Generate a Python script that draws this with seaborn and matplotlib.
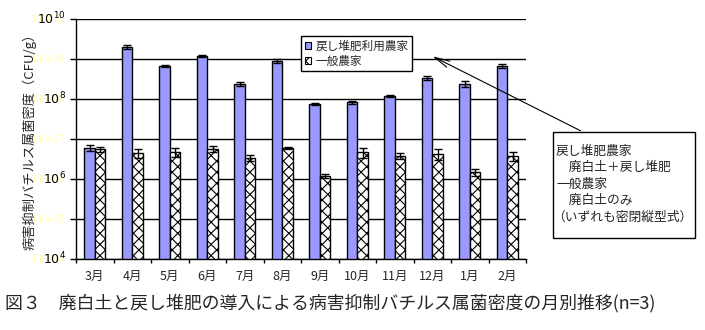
import numpy as np
import pandas as pd
import matplotlib
matplotlib.use("Agg")
import matplotlib.pyplot as plt
import matplotlib.patches as mpatches
import seaborn as sns

# ---- data ----
months = ["3月", "4月", "5月", "6月", "7月", "8月", "9月", "10月", "11月", "12月", "1月", "2月"]
series_names = ["戻し堆肥利用農家", "一般農家"]
modoshi_values = [6.0e6, 2.0e9, 6.7e8, 1.19e9, 2.4e8, 8.9e8, 7.5e7, 8.4e7, 1.19e8, 3.35e8, 2.4e8, 6.7e8]
ippan_values = [5.6e6, 4.5e6, 4.7e6, 5.75e6, 3.35e6, 6.0e6, 1.19e6, 4.7e6, 3.8e6, 4.3e6, 1.5e6, 3.8e6]
modoshi_err = [0.9e6, 0.19e9, 0.04e9, 0.07e9, 0.03e9, 0.1e9, 0.45e7, 0.7e7, 0.95e7, 0.4e8, 0.35e8, 0.8e8]
ippan_err = [0.8e6, 1.2e6, 1.2e6, 1.1e6, 0.6e6, 0.3e6, 0.15e6, 1.3e6, 0.6e6, 1.3e6, 0.28e6, 0.9e6]
ytick_exps = [4, 5, 6, 7, 8, 9, 10]
caption = "図３　廃白土と戻し堆肥の導入による病害抑制バチルス属菌密度の月別推移(n=3)"
ylabel = "病害抑制バチルス属菌密度（CFU/g）"
note_lines = ["戻し堆肥農家", "　廃白土＋戻し堆肥", "一般農家", "　廃白土のみ", "（いずれも密閉縦型式）"]

df = pd.DataFrame({
    "month": months * 2,
    "series": [series_names[0]] * len(months) + [series_names[1]] * len(months),
    "value": modoshi_values + ippan_values,
})

sns.set_theme(style="white")
plt.rcParams["font.family"] = ["Noto Sans CJK JP", "DejaVu Sans"]
plt.rcParams["hatch.linewidth"] = 0.8

W, H = 705, 330
fig = plt.figure(figsize=(W / 100, H / 100), dpi=100)
ax = fig.add_axes([76 / W, 1 - 259 / H, 450 / W, 240 / H])

sns.barplot(data=df, x="month", y="value", hue="series", order=months,
            hue_order=series_names, palette=["#9999ff", "#ffffff"],
            width=0.56, gap=0, edgecolor="black", linewidth=1.0,
            saturation=1, errorbar=None, ax=ax, legend=False)
ax.set_yscale("log")
ax.set_ylim(1e4, 1e10)
ax.set_xlim(-0.5, len(months) - 0.5)

for bar in ax.containers[1]:
    bar.set_hatch("xxx")
    bar.set_facecolor("white")
    bar.set_edgecolor("black")

# error bars
for cont, vals, errs in zip(ax.containers, [modoshi_values, ippan_values], [modoshi_err, ippan_err]):
    xs = [b.get_x() + b.get_width() / 2 for b in cont]
    ax.errorbar(xs, vals, yerr=errs, fmt="none", ecolor="black", elinewidth=1,
                capsize=3, capthick=1, zorder=5)

# grid
ax.set_yticks([10.0 ** e for e in ytick_exps])
ax.yaxis.set_minor_locator(matplotlib.ticker.NullLocator())
ax.grid(axis="y", color="black", linewidth=1)
ax.set_axisbelow(True)
for s in ["top", "right"]:
    ax.spines[s].set_visible(False)
for s in ["left", "bottom"]:
    ax.spines[s].set_color("black")
    ax.spines[s].set_linewidth(1)

# faint "1.E+xx" labels
ax.set_yticklabels(["1.E+%02d" % e for e in ytick_exps], color="#ffffa8", fontsize=6.8,
                   family="DejaVu Sans")
ax.tick_params(axis="y", which="major", length=4, width=1, color="black", direction="out", pad=3.5, left=True)

# black 10^n labels at even decades
ytr = ax.get_yaxis_transform()
for e in ytick_exps:
    if e % 2 == 0:
        ax.text(-10 / 450, 10.0 ** e, r"$10^{%d}$" % e, transform=ytr, ha="right", va="center",
                fontsize=9, color="black", family="DejaVu Sans")

# x ticks: labels at centres, tick marks at boundaries
ax.set_xticks(range(len(months)))
ax.set_xticklabels(months, fontsize=9)
ax.tick_params(axis="x", which="major", length=0, pad=8)
ax.set_xticks(np.arange(-0.5, len(months), 1.0), minor=True)
ax.tick_params(axis="x", which="minor", length=3, width=1, color="black", direction="out", bottom=True)
ax.set_xlabel("")
ax.set_ylabel("")

fig.text(29 / W, 1 - 138 / H, ylabel, rotation=90, ha="center", va="center", fontsize=9.5)

# legend
h0 = mpatches.Patch(facecolor="#9999ff", edgecolor="black", linewidth=0.8)
h1 = mpatches.Patch(facecolor="white", edgecolor="black", hatch="xxx", linewidth=0.8)
leg = ax.legend([h0, h1], series_names, loc="upper left",
                bbox_to_anchor=(301 / W, 1 - 36 / H), bbox_transform=fig.transFigure,
                fontsize=8.4, frameon=True, fancybox=False, shadow=False,
                handlelength=0.55, handleheight=0.55, handletextpad=0.4,
                borderpad=0.3, labelspacing=0.2, borderaxespad=0)
leg.get_frame().set_edgecolor("black")
leg.get_frame().set_linewidth(1)
leg.get_frame().set_facecolor("white")
leg.get_frame().set_alpha(1)

# note box
box = mpatches.Rectangle((553 / W, 1 - 238 / H), 142 / W, 106 / H, transform=fig.transFigure,
                         facecolor="white", edgecolor="black", linewidth=1)
fig.add_artist(box)
note_y = [151, 167.5, 184, 200.5, 217]
note_x = [556, 556, 556, 556, 552]
for t, x, y in zip(note_lines, note_x, note_y):
    fig.text(x / W, 1 - y / H, t, ha="left", va="center", fontsize=9.2)

# arrow
ax.annotate("", xy=(430 / W, 1 - 55 / H), xycoords="figure fraction",
            xytext=(583 / W, 1 - 132 / H), textcoords="figure fraction",
            arrowprops=dict(arrowstyle="->,head_length=0.9,head_width=0.2", color="black", lw=0.8),
            annotation_clip=False)

fig.text(5 / W, 1 - 303 / H, caption, ha="left", va="center", fontsize=12.9)

fig.savefig("out.png", dpi=100)
